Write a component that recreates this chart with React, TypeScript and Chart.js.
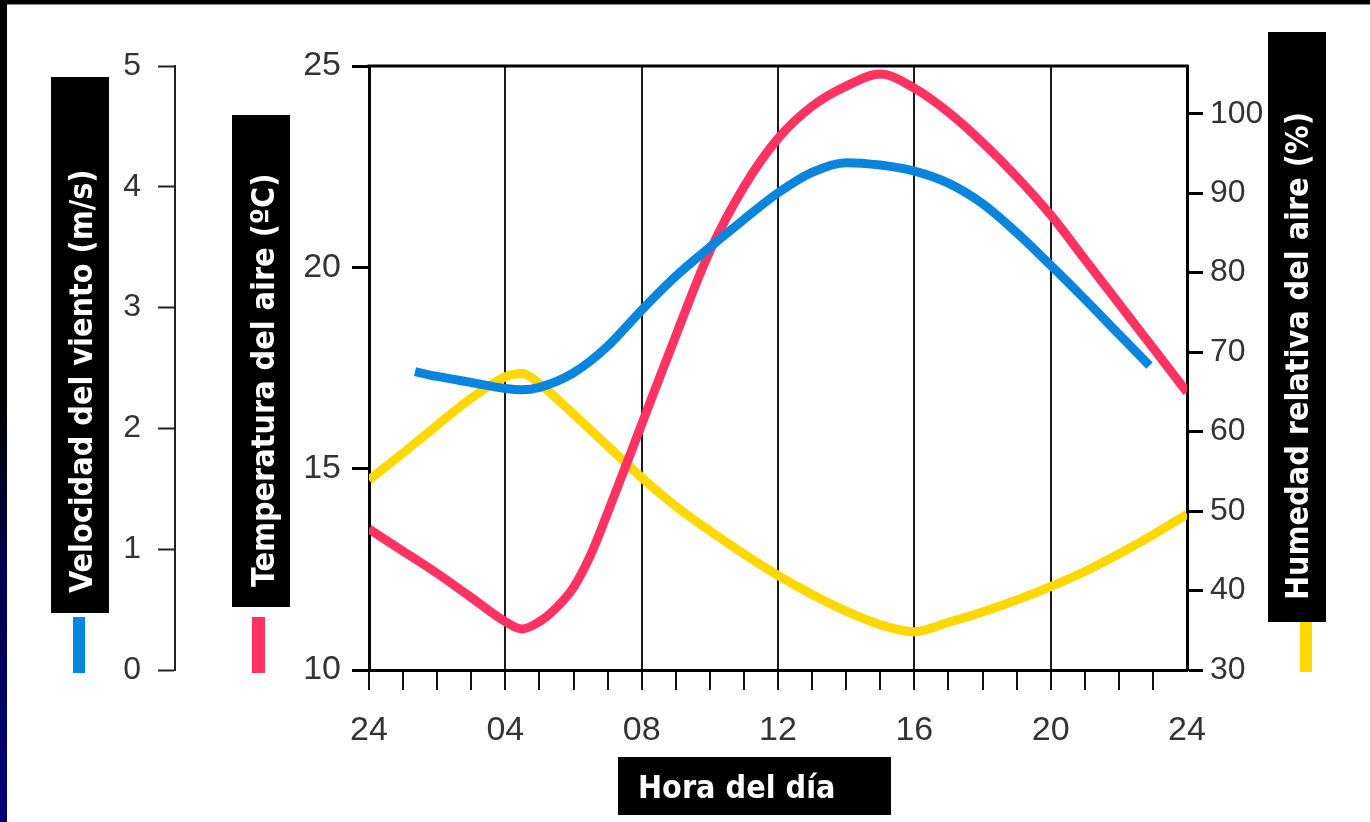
import React, { useEffect, useRef } from 'react';
import { Chart, registerables } from 'chart.js';

Chart.register(...registerables);

// ---- Data (hours of the day, 0 = 24h of the previous day) ----
const tempHours = [0, 1, 2, 3, 4, 4.5, 5, 5.5, 6, 6.5, 7, 8, 9, 10, 11, 12, 13, 14, 15, 16, 17, 18, 19, 20, 21, 22, 23, 24];
const tempValues = [13.5, 12.95, 12.4, 11.8, 11.2, 11.02, 11.2, 11.55, 12.05, 12.85, 13.9, 16.1, 18.3, 20.4, 22.0, 23.2, 24.0, 24.5, 24.8, 24.45, 23.85, 23.1, 22.25, 21.3, 20.2, 19.1, 18.0, 16.9];

const windHours = [1.35, 2, 3, 4, 4.5, 5, 6, 7, 8, 9, 10, 11, 12, 13, 14, 15, 16, 17, 18, 19, 20, 21, 22, 22.9];
const windValues = [2.47, 2.43, 2.38, 2.33, 2.32, 2.34, 2.46, 2.68, 2.98, 3.26, 3.5, 3.73, 3.95, 4.12, 4.2, 4.18, 4.13, 4.03, 3.86, 3.62, 3.35, 3.07, 2.78, 2.52];

const humHours = [0, 1, 2, 3, 4, 4.5, 5, 6, 7, 8, 9, 10, 11, 12, 13, 14, 15, 16, 17, 18, 19, 20, 21, 22, 23, 24];
const humValues = [53.9, 57.3, 60.8, 64.2, 66.9, 67.3, 66.0, 62.2, 58.2, 54.2, 50.6, 47.5, 44.6, 41.9, 39.5, 37.4, 35.7, 34.8, 36.0, 37.3, 38.8, 40.5, 42.4, 44.6, 47.0, 49.6];

const xLabelHours = [0, 4, 8, 12, 16, 20, 24];
const xLabelTexts = ['24', '04', '08', '12', '16', '20', '24'];

const windTitle = 'Velocidad del viento (m/s)';
const tempTitle = 'Temperatura del aire (ºC)';
const humTitle = 'Humedad relativa del aire (%)';
const xTitle = 'Hora del día';

const RED = '#FF3361';
const BLUE = '#0A85DE';
const YELLOW = '#FFD800';

const toPoints = (xs: number[], ys: number[]) => xs.map((x, i) => ({ x, y: ys[i] }));

const TITLE_FONT = 'bold 32px "DejaVu Sans Condensed", "DejaVu Sans", "Liberation Sans", sans-serif';
const TICK_FAMILY = '"Liberation Sans", Arial, sans-serif';

const overlayPlugin = {
  id: 'overlay',
  afterDraw(chart: any) {
    const ctx = chart.ctx as CanvasRenderingContext2D;
    const a = chart.chartArea;
    ctx.save();
    // top frame line of the plot
    ctx.strokeStyle = '#000';
    ctx.lineWidth = 3;
    ctx.beginPath();
    ctx.moveTo(a.left - 1.5, a.top);
    ctx.lineTo(a.right + 1.5, a.top);
    ctx.stroke();

    // vertical title boxes
    const vTitle = (x: number, y: number, w: number, h: number, text: string, baseX: number, startY: number) => {
      ctx.fillStyle = '#000';
      ctx.fillRect(x, y, w, h);
      ctx.save();
      ctx.translate(baseX, startY);
      ctx.rotate(-Math.PI / 2);
      ctx.fillStyle = '#fff';
      ctx.font = TITLE_FONT;
      ctx.textAlign = 'left';
      ctx.textBaseline = 'alphabetic';
      ctx.fillText(text, 0, 0);
      ctx.restore();
    };
    vTitle(51, 77, 58, 536, windTitle, 92, 593);
    vTitle(232, 115, 58, 492, tempTitle, 274, 587);
    vTitle(1268, 32, 58, 590, humTitle, 1308, 600);

    // x title box
    ctx.fillStyle = '#000';
    ctx.fillRect(618, 757, 273, 58);
    ctx.fillStyle = '#fff';
    ctx.font = TITLE_FONT;
    ctx.textAlign = 'left';
    ctx.textBaseline = 'alphabetic';
    ctx.fillText(xTitle, 638, 798);

    // colour keys under the titles
    ctx.fillStyle = BLUE;
    ctx.fillRect(73, 617, 12, 56);
    ctx.fillStyle = RED;
    ctx.fillRect(252, 617, 13, 56);
    ctx.fillStyle = YELLOW;
    ctx.fillRect(1300, 622, 12, 50);
    ctx.restore();
  },
};

export default function App() {
  const canvasRef = useRef<HTMLCanvasElement | null>(null);

  useEffect(() => {
    if (!canvasRef.current) return;
    const chart = new Chart(canvasRef.current, {
      type: 'line',
      data: {
        datasets: [
          {
            label: 'Velocidad del viento',
            data: toPoints(windHours, windValues),
            yAxisID: 'yWind',
            borderColor: BLUE,
            borderWidth: 9,
            pointRadius: 0,
            cubicInterpolationMode: 'monotone',
            fill: false,
            order: 0,
            clip: 0,
          },
          {
            label: 'Temperatura del aire',
            data: toPoints(tempHours, tempValues),
            yAxisID: 'yTemp',
            borderColor: RED,
            borderWidth: 9,
            pointRadius: 0,
            cubicInterpolationMode: 'monotone',
            fill: false,
            order: 1,
            clip: 0,
          },
          {
            label: 'Humedad relativa del aire',
            data: toPoints(humHours, humValues),
            yAxisID: 'yHum',
            borderColor: YELLOW,
            borderWidth: 9,
            pointRadius: 0,
            cubicInterpolationMode: 'monotone',
            fill: false,
            order: 2,
            clip: 0,
          },
        ],
      },
      options: {
        responsive: false,
        animation: false,
        devicePixelRatio: 1,
        layout: { padding: { left: 60, right: 93, top: 66, bottom: 62 } },
        plugins: { legend: { display: false }, tooltip: { enabled: false } },
        scales: {
          x: {
            type: 'linear',
            position: 'bottom',
            min: 0,
            max: 24,
            ticks: {
              stepSize: 1,
              maxTicksLimit: 40,
              autoSkip: false,
              maxRotation: 0,
              padding: 20,
              color: '#333',
              font: { family: TICK_FAMILY, size: 34 },
              callback: (v: any) => {
                const i = xLabelHours.indexOf(Number(v));
                return i >= 0 ? xLabelTexts[i] : '';
              },
            },
            grid: {
              drawOnChartArea: true,
              color: (c: any) => {
                const v = c.tick ? c.tick.value : -1;
                return v % 4 === 0 && v > 0 && v < 24 ? '#1a1a1a' : 'rgba(0,0,0,0)';
              },
              lineWidth: 2,
              tickLength: 20,
              tickWidth: 2,
              tickColor: (c: any) => (c.tick && c.tick.value === 24 ? 'rgba(0,0,0,0)' : '#111'),
            },
            border: { display: true, color: '#000', width: 3 },
            afterFit: (s: any) => { s.height = 90; },
          },
          yWind: {
            type: 'linear',
            position: 'left',
            weight: 1,
            min: 0,
            max: 5,
            ticks: {
              stepSize: 1,
              padding: 17,
              color: '#333',
              font: { family: TICK_FAMILY, size: 32 },
            },
            grid: { drawOnChartArea: false, tickLength: 17, tickWidth: 2, tickColor: '#222' },
            border: { display: true, color: '#222', width: 2 },
            afterFit: (s: any) => { s.width = 115; },
          },
          yTemp: {
            type: 'linear',
            position: 'left',
            weight: 0,
            min: 10,
            max: 25,
            ticks: {
              stepSize: 5,
              padding: 11,
              color: '#333',
              font: { family: TICK_FAMILY, size: 34 },
            },
            grid: { drawOnChartArea: false, tickLength: 17, tickWidth: 3, tickColor: '#000' },
            border: { display: true, color: '#000', width: 3 },
            afterFit: (s: any) => { s.width = 194; },
          },
          yHum: {
            type: 'linear',
            position: 'right',
            min: 30,
            max: 106,
            ticks: {
              stepSize: 10,
              includeBounds: false,
              padding: 7,
              color: '#333',
              font: { family: TICK_FAMILY, size: 32 },
            },
            grid: { drawOnChartArea: false, tickLength: 16, tickWidth: 3, tickColor: '#000' },
            border: { display: true, color: '#000', width: 3 },
            afterFit: (s: any) => { s.width = 90; },
          },
        },
      } as any,
      plugins: [overlayPlugin],
    });
    return () => chart.destroy();
  }, []);

  return (
    <div style={{ position: 'absolute', left: 0, top: 0, width: 1370, height: 822, background: '#fff', overflow: 'hidden' }}>
      <canvas ref={canvasRef} width={1370} height={822} style={{ display: 'block', width: 1370, height: 822 }} />
      <div style={{ position: 'absolute', left: 0, top: 0, width: 1370, height: 4, background: '#000' }} />
      <div style={{ position: 'absolute', left: 0, top: 4, width: 1370, height: 1, background: '#8a8a8a' }} />
      <div
        style={{
          position: 'absolute',
          left: 0,
          top: 0,
          width: 7,
          height: 822,
          background: 'linear-gradient(to bottom, #000 0%, #000 48%, #000050 68%, #00007a 100%)',
        }}
      />
    </div>
  );
}
